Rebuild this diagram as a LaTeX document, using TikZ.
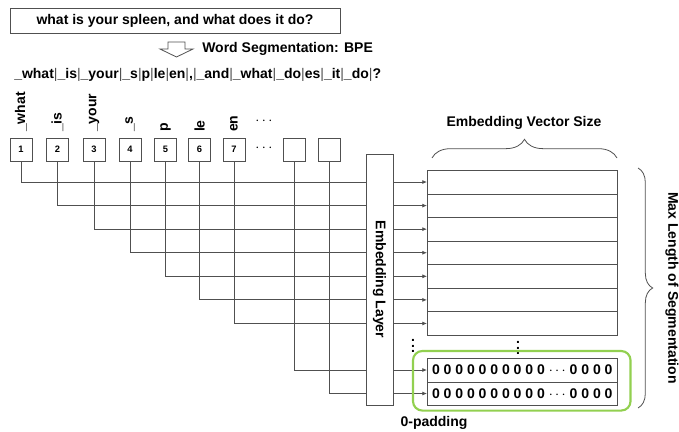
\documentclass[tikz,border=0pt]{standalone}
\usepackage{fontspec}
\setmainfont{Liberation Sans}
\usetikzlibrary{arrows.meta, positioning, decorations.pathreplacing, calc}

\definecolor{linegray}{RGB}{80,80,80}
\definecolor{padgreen}{RGB}{146,208,80}

% one row of zero padding
\newcommand{\zerorow}{0 0 0 0 0 0 0 0 0 0 $\cdots$ 0 0 0 0}
\newcommand{\pcsep}{{\mdseries\textcolor{linegray}{|}}}

\begin{document}
\begin{tikzpicture}[x=0.75pt, y=-0.75pt,
    font=\bfseries\fontsize{10.5}{12}\selectfont,
    tokbox/.style={draw=linegray, minimum width=16.5pt, minimum height=17pt,
      inner sep=0pt, font=\bfseries\fontsize{7}{8}\selectfont},
    toklabel/.style={rotate=90, anchor=west, inner sep=0.5pt},
    vecrow/.style={draw=linegray, minimum width=142.5pt, minimum height=17.65pt,
      inner sep=0pt, anchor=north west},
    vdotmark/.style={inner sep=0pt},
    wire/.style={linegray, line width=0.6pt},
    feed/.style={wire, -{Latex[length=3.5pt,width=3pt]}},
    bracket/.style={decorate, decoration={brace, amplitude=#1}, linegray, line width=0.6pt},
    padbox/.style={padgreen, line width=1.6pt, rounded corners=7pt}]
  \useasboundingbox (0,0) rectangle (679,432);

  % input sentence and segmentation
  \node[draw=linegray, minimum width=247.5pt, minimum height=18.75pt, inner sep=0pt]
    (sent) at (175,20.5) {what is your spleen, and what does it do?};
  \draw[linegray, line width=0.6pt] (168,42) -- (185,42) -- (185,49) -- (193,49)
    -- (176.5,57) -- (160,49) -- (168,49) -- cycle;
  \node[anchor=west, inner sep=0pt] (bpe) at (202,49) {Word Segmentation: BPE};
  \node[anchor=west, inner sep=0pt] (pieces) at (14,75)
    {\_what\pcsep\_is\pcsep\_your\pcsep\_s\pcsep p\pcsep le\pcsep en\pcsep,\pcsep\_and\pcsep\_what\pcsep\_do\pcsep es\pcsep\_it\pcsep\_do\pcsep?};

  % token ids
  \foreach \i/\x in {1/21,2/57.5,3/94,4/130,5/165.5,6/199.5,7/234}
    \node[tokbox] (t\i) at (\x,149.5) {\i};
  \foreach \i/\x in {8/294.5,9/329.5}
    \node[tokbox] (t\i) at (\x,149.5) {};
  \foreach \i/\s in {1/\_what,2/\_is,3/\_your,4/\_s,5/p,6/le,7/en}
    \node[toklabel] (lab\i) at ($(t\i.north)+(0,-5)$) {\s};
  \node (dotsa) at (264,121) {$\cdots$};
  \node (dotsb) at (264,148) {$\cdots$};

  % embedding layer
  \node[draw=linegray, line width=0.6pt, minimum width=20.25pt, minimum height=188.25pt,
    inner sep=0pt] (emb) at (379.5,279.5) {};
  \node[rotate=-90] (embtxt) at (emb) {Embedding Layer};

  % embedding matrix
  \foreach \i in {1,...,7}
    \node[vecrow] (r\i) at (427,{170+23.57*(\i-1)}) {};
  \node[vecrow] (z1) at (427,358) {\zerorow};
  \node[vecrow] (z2) at (427,381.5) {\zerorow};
  \node[vdotmark] (vdotsa) at (413,342) {$\vdots$};
  \node[vdotmark] (vdotsb) at (518,344) {$\vdots$};

  % lookups
  \foreach \i in {1,...,7} {
    \draw[wire] (t\i.south) |- (emb.west |- r\i);
    \draw[feed] (emb.east |- r\i) -- (r\i.west);
  }
  \draw[wire] (t8.south) |- (emb.west |- z1);
  \draw[feed] (emb.east |- z1) -- (z1.west);
  \draw[wire] (t9.south) |- (emb.west |- z2);
  \draw[feed] (emb.east |- z2) -- (z2.west);

  % padding and sizes
  \draw[padbox] ($(z1.north west)+(-14,-7)$) rectangle ($(z2.south east)+(13,5)$);
  \node (pad) at (434,423) {0-padding};
  \draw[bracket=14pt] (432,158) -- (617,158);
  \node (vecsize) at (524,123) {Embedding Vector Size};
  \draw[bracket=11pt] (638,168) -- (638,408);
  \node[rotate=-90] (maxlen) at (672,288) {Max Length of Segmentation};
\end{tikzpicture}
\end{document}
